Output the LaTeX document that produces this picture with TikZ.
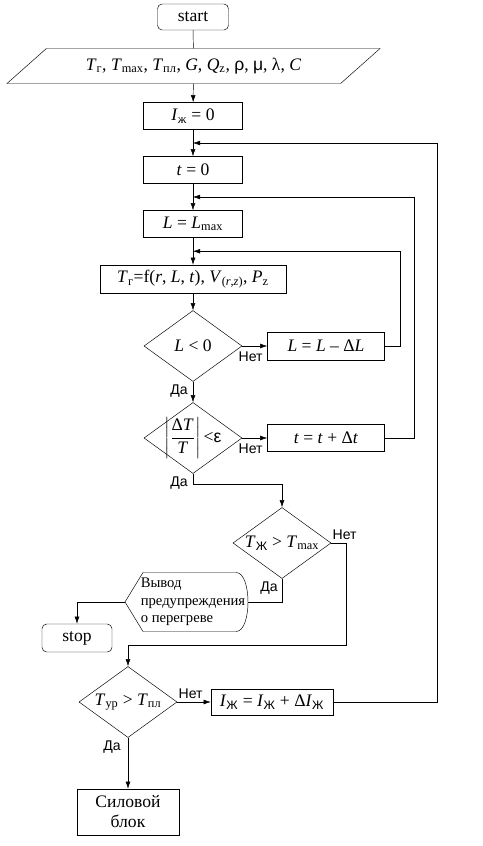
\documentclass[tikz,border=0pt]{standalone}
\usepackage{fontspec}
\usepackage{amsmath}
\setmainfont{Liberation Serif}
\newfontfamily\labelfont{Liberation Sans}
\usetikzlibrary{shapes.geometric,arrows.meta,calc}
\newcommand{\ivar}[1]{\textit{#1}}
\newcommand{\lsub}[1]{\textsubscript{#1}}

\begin{document}
\begin{tikzpicture}[x=0.03cm,y=-0.03cm,>={Latex[length=6pt,width=4pt]},
  font=\fontsize{15}{17}\selectfont,
  box/.style={draw,rectangle,minimum width=2.97cm,minimum height=0.81cm,inner sep=1pt},
  rbox/.style={box,rounded corners=4pt},
  cond/.style={draw,diamond,minimum width=2.94cm,minimum height=2.13cm,inner sep=0pt},
  lbl/.style={font=\labelfont\fontsize{12}{14}\selectfont,inner sep=1pt}]
\useasboundingbox (0,0) rectangle (483,846);

\node[rbox,minimum width=2.13cm,minimum height=0.78cm] (start) at (193,17) {start};
\node[draw,trapezium,trapezium left angle=25,trapezium right angle=155,
  trapezium stretches body,minimum width=11.19cm,minimum height=1.05cm,inner sep=1pt]
  (input) at (193.5,66) {\ivar{T}\lsub{г}, \ivar{T}\lsub{max}, \ivar{T}\lsub{пл}, \ivar{G}, \ivar{Q}\lsub{z}, {\labelfont ρ}, {\labelfont μ}, λ, \ivar{C}};

\node[box] (iz) at (193,116) {\ivar{I}\lsub{ж} = 0};
\node[box] (t0) at (193,170) {\ivar{t} = 0};
\node[box] (lmax) at (193,224) {\ivar{L} = \ivar{L}\lsub{max}};
\node[box,minimum width=5.58cm,minimum height=0.84cm] (field) at (193,279)
  {\ivar{T}\lsub{г}=f(\ivar{r}, \ivar{L}, \ivar{t}), \ivar{V}\lsub{(\ivar{r},\ivar{z})}, \ivar{P}\lsub{z}};

\node[cond,label={center:\ivar{L} < 0}] (d1) at (193,346) {};
\node[box,minimum width=3.51cm,minimum height=0.84cm] (dl) at (326,346) {\ivar{L} = \ivar{L} – Δ\ivar{L}};

\node[cond,label={center:$\displaystyle\left|\frac{\text{Δ\textit{T}}}{\text{\textit{T}}}\right|$\,<{\labelfont ε}}] (d2) at (193,438) {};
\node[box,minimum width=3.51cm] (dt) at (326,438) {\ivar{t} = \ivar{t} + Δ\ivar{t}};

\node[cond,label={center:\ivar{T}\lsub{\labelfont Ж} > \ivar{T}\lsub{max}}] (d3) at (282,543) {};

% warning output
\node[align=left,font=\fontsize{12.5}{15}\selectfont,inner sep=0pt] (warn) at (193,602)
  {Вывод\\предупреждения\\о перегреве};
\coordinate (warnL) at ($(warn.center)+(-68,0)$);
\coordinate (warnR) at ($(warn.center)+(55,0)$);
\draw (warnL) -- ($(warn.center)+(-50,-29.5)$) -- ($(warn.center)+(43,-29.5)$)
  .. controls ($(warn.center)+(59,-29.5)$) and ($(warn.center)+(59,29.5)$) .. ($(warn.center)+(43,29.5)$)
  -- ($(warn.center)+(-50,29.5)$) -- cycle;

\node[rbox,minimum width=2.1cm,minimum height=0.84cm] (stop) at (77,638) {stop};

\node[cond,label={center:\ivar{T}\lsub{ур} > \ivar{T}\lsub{пл}}] (d4) at (128,702) {};
\node[box,minimum width=3.66cm,minimum height=0.78cm] (izup) at (272,702)
  {\ivar{I}\lsub{\labelfont Ж} = \ivar{I}\lsub{\labelfont Ж} + Δ\ivar{I}\lsub{\labelfont Ж}};
\node[box,minimum width=3.06cm,minimum height=1.38cm,align=center] (power) at (128,812) {Силовой\\блок};

\coordinate (j1) at ($(iz.south)!0.5!(t0.north)$);
\coordinate (j2) at ($(t0.south)!0.5!(lmax.north)$);
\coordinate (j3) at ($(lmax.south)!0.5!(field.north)$);

\draw (start) -- (input);
\draw[->] (input) -- (iz);
\draw[->] (iz) -- (t0);
\draw[->] (t0) -- (lmax);
\draw[->] (lmax) -- (field);
\draw[->] (field) -- (d1);

\draw[->] (d1.east) -- (dl.west);
\node[lbl,anchor=north west] at ($(d1.east)+(-5,4)$) {Нет};
\draw[->] (d1.south) -- (d2.north);
\node[lbl,anchor=north east] at ($(d1.south)+(-4,2)$) {Да};
\draw[->] (dl.east) -- ++(15,0) |- (j3);

\draw[->] (d2.east) -- (dt.west);
\node[lbl,anchor=north west] at ($(d2.east)+(-5,4)$) {Нет};
\draw[->] (d2.south) -- ++(0,10) -| (d3.north);
\node[lbl,anchor=north east] at ($(d2.south)+(-4,2)$) {Да};
\draw[->] (dt.east) -- ++(29,0) |- (j2);

\draw (d3.south) |- (warnR);
\node[lbl,anchor=north east] at ($(d3.south)+(-3,2)$) {Да};
\draw[->] (warnL) -| (stop.north);
\draw[->] (d3.east) -- ++(15,0) -- ++(0,102) -| (d4.north);
\node[lbl,anchor=south west] at ($(d3.east)+(0,-2)$) {Нет};

\draw[->] (d4.east) -- (izup.west);
\node[lbl,anchor=south west] at ($(d4.east)+(0,-2)$) {Нет};
\draw[->] (d4.south) -- (power.north);
\node[lbl,anchor=north east] at ($(d4.south)+(-6,2)$) {Да};
\draw[->] (izup.east) -- ++(104,0) |- (j1);
\end{tikzpicture}
\end{document}
